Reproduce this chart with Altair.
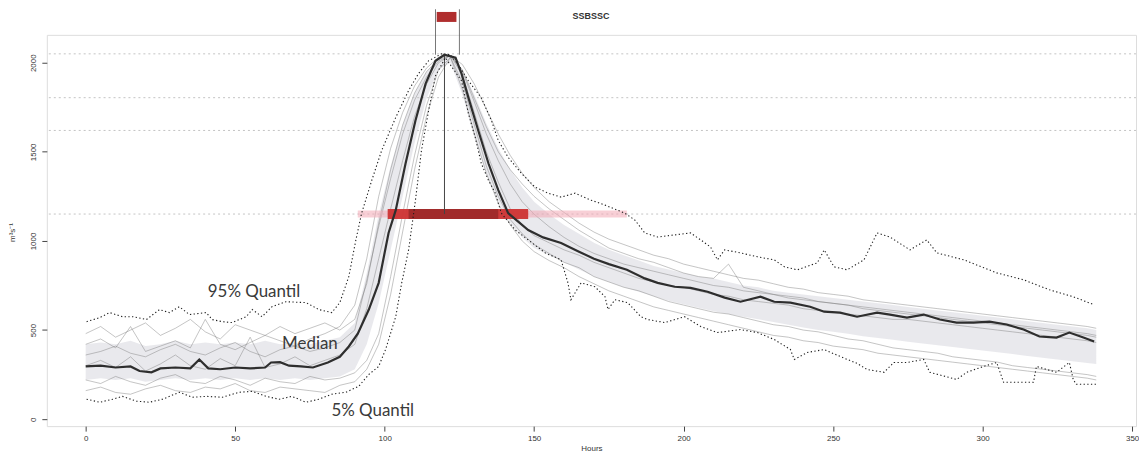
import altair as alt
import pandas as pd

# ---------------- data ----------------
MEMBER_HOURS = [0, 5, 10, 15, 20, 25, 30, 35, 40, 45, 50, 55, 60, 65, 70, 75, 80, 85, 90,
                94, 98, 102, 106, 110, 114, 118, 122, 126, 130, 134, 138, 142, 146,
                150, 155, 160, 165, 170, 175, 180, 185, 190, 195, 200, 205, 210, 215, 220,
                225, 230, 235, 240, 245, 250, 255, 260, 265, 270, 275, 280, 285, 290, 295,
                300, 305, 310, 315, 320, 325, 330, 335, 338]

MEMBER_A = [420, 450, 400, 520, 380, 410, 440, 400, 560, 420, 390, 430, 470, 440, 410, 450, 480, 520, 640,
            900, 1250, 1520, 1720, 1870, 1970, 2030, 2040, 1960, 1800, 1640, 1500, 1400, 1320,
            1250, 1180, 1120, 1060, 1010, 960, 930, 900, 880, 850, 820, 800, 790, 870, 740,
            720, 700, 690, 680, 660, 650, 640, 620, 610, 600, 590, 580, 570, 560, 550,
            540, 530, 520, 510, 500, 490, 480, 470, 460]
MEMBER_B = [220, 200, 240, 210, 190, 230, 250, 210, 200, 240, 220, 190, 230, 210, 200, 240, 220, 230, 260,
            330, 480, 800, 1150, 1480, 1760, 1960, 2030, 1890, 1650, 1420, 1250, 1120, 1040,
            980, 930, 880, 850, 800, 770, 740, 720, 690, 660, 640, 620, 600, 590, 570,
            550, 530, 520, 500, 490, 470, 450, 440, 420, 400, 390, 380, 370, 350, 340,
            330, 320, 300, 290, 280, 270, 260, 250, 240]
MEMBER_C = [300, 330, 290, 350, 270, 310, 360, 300, 280, 340, 300, 460, 290, 310, 350, 300, 330, 360, 420,
            620, 900, 1180, 1450, 1700, 1880, 2000, 2040, 1930, 1720, 1500, 1330, 1180, 1090,
            1030, 990, 950, 920, 880, 850, 820, 790, 770, 750, 740, 720, 700, 690, 670,
            660, 650, 640, 620, 610, 600, 590, 580, 570, 560, 560, 550, 540, 530, 520,
            510, 500, 490, 480, 470, 460, 450, 440, 430]
MEMBER_D = [480, 520, 460, 500, 540, 470, 510, 560, 490, 450, 530, 500, 470, 520, 480, 510, 540, 500, 560,
            760, 1100, 1400, 1650, 1830, 1950, 2020, 2040, 1990, 1880, 1740, 1600, 1480, 1380,
            1300, 1220, 1160, 1100, 1050, 1010, 980, 950, 920, 900, 870, 850, 830, 810, 790,
            780, 760, 740, 730, 710, 700, 690, 670, 660, 650, 640, 630, 620, 610, 600,
            590, 580, 570, 560, 550, 540, 530, 520, 510]
MEMBER_E = [160, 180, 150, 140, 170, 190, 160, 150, 180, 170, 200, 160, 150, 180, 170, 160, 150, 190, 210,
            280, 420, 700, 1050, 1400, 1700, 1920, 2030, 1850, 1600, 1380, 1210, 1090, 1000,
            940, 890, 850, 800, 760, 720, 690, 660, 630, 610, 590, 570, 550, 530, 510,
            490, 470, 460, 440, 430, 410, 400, 390, 370, 360, 350, 340, 330, 320, 310,
            300, 290, 280, 270, 260, 250, 240, 230, 220]
MEMBER_F = [360, 380, 410, 370, 350, 390, 420, 380, 360, 400, 430, 380, 350, 390, 410, 380, 400, 430, 500,
            780, 1080, 1350, 1600, 1790, 1920, 2010, 2040, 1950, 1780, 1600, 1450, 1320, 1220,
            1150, 1080, 1020, 970, 930, 900, 870, 850, 830, 810, 790, 770, 750, 740, 720,
            710, 700, 680, 670, 660, 650, 640, 630, 620, 610, 600, 590, 580, 570, 560,
            550, 540, 530, 520, 510, 500, 490, 480, 470]

# grey haze of the ensemble (dense part of the member cloud)
HAZE_LOW = [220, 230, 220, 230, 210, 220, 230, 220, 230, 220, 230, 220, 230, 220, 230, 220, 230, 240, 280,
            420, 650, 950, 1250, 1550, 1800, 1960, 2000, 1820, 1580, 1380, 1220, 1100, 1020,
            960, 920, 880, 840, 800, 770, 740, 715, 690, 665, 645, 625, 605, 590, 575,
            560, 545, 530, 515, 500, 490, 480, 465, 455, 445, 435, 425, 415, 405, 395,
            385, 375, 365, 355, 345, 335, 325, 315, 310]
HAZE_HIGH = [420, 430, 420, 440, 410, 420, 440, 420, 430, 420, 430, 420, 440, 420, 430, 420, 440, 460, 540,
             820, 1150, 1420, 1650, 1830, 1950, 2020, 2040, 1960, 1820, 1660, 1520, 1400, 1300,
             1220, 1150, 1090, 1040, 990, 950, 920, 890, 860, 840, 820, 800, 790, 770, 750,
             740, 720, 710, 700, 690, 680, 670, 660, 650, 640, 630, 620, 610, 600, 590,
             580, 570, 560, 550, 540, 530, 520, 510, 500]

MEDIAN_HOURS = [0, 5, 10, 15, 18, 22, 25, 30, 35, 38, 41, 45, 50, 55, 60, 62, 65, 68, 72, 76, 81, 85,
                88, 91, 94.7, 98, 101.3, 103.7, 107, 110.3, 113.7, 117, 120, 123.7, 125.7, 128, 131.3,
                134.7, 138, 141.3, 148, 153, 159, 165, 170, 175, 181, 187, 191.3, 197, 202.3, 208,
                213.7, 219, 225.7, 230.3, 235.7, 242.3, 247, 252.3, 258, 264.7, 269, 274.7, 280.3,
                285.7, 291.3, 297, 302.3, 308, 313.7, 319, 324.7, 329, 333.7, 337.3]
MEDIAN_VALUES = [296, 300, 290, 296, 270, 263, 285, 290, 285, 335, 285, 280, 290, 285, 290, 318, 320, 300,
                 296, 290, 318, 350, 408, 480, 615, 765, 1045, 1173, 1436, 1676, 1883, 2011, 2045, 2028,
                 1939, 1804, 1620, 1436, 1285, 1156, 1061, 1020, 989, 940, 900, 870, 838, 790, 765, 743,
                 737, 715, 682, 659, 687, 659, 654, 631, 603, 598, 575, 598, 587, 570, 587, 559, 542,
                 542, 547, 531, 503, 464, 458, 486, 458, 436]

Q95_HOURS = [0.3, 4.7, 8, 12.3, 15.7, 20.3, 24.7, 28, 31.3, 34.7, 40.3, 42.3, 45.7, 49, 53.7, 55.7,
             59, 62.3, 67, 73.7, 78, 82.3, 85, 88, 90.3, 92.3, 95.7, 99, 103.7, 108, 111.3, 114.7,
             119, 122, 125, 128, 132.3, 135.7, 138, 141.3, 145.7, 150.3, 154.7, 159, 163.7, 169,
             173.7, 180.3, 183.7, 187, 191.3, 197, 202.3, 205.7, 209, 211.3, 213.7, 219, 224.7,
             230.3, 233.7, 238, 244.7, 247, 250.3, 254.7, 260.3, 264.7, 269, 275.7, 281.3, 284.7,
             293.7, 304.7, 313.7, 322.3, 330.3, 337.3]
Q95_VALUES = [547, 570, 598, 575, 575, 559, 615, 598, 631, 587, 598, 559, 547, 542, 575, 615,
              575, 631, 659, 654, 615, 598, 654, 800, 1000, 1156, 1341, 1508, 1693, 1844, 1939, 2011,
              2050, 2045, 1980, 1899, 1804, 1676, 1564, 1469, 1380, 1302, 1268, 1246, 1268, 1229,
              1201, 1156, 1117, 1045, 1022, 1034, 1045, 1006, 966, 894, 950, 933, 911,
              894, 855, 838, 877, 950, 855, 838, 894, 1045, 1022, 950, 1006, 933,
              894, 821, 782, 726, 687, 642]

Q05_HOURS = [0.3, 4.7, 9, 12.3, 17, 21.3, 25.7, 31.3, 35.7, 40.3, 45.7, 51.3, 55.7, 60.3, 64.7, 69,
             73.7, 78, 82.3, 87, 91.3, 94.7, 98, 100.3, 103.7, 105.7, 108, 110.3, 112.3, 114.7, 117,
             120.3, 125.7, 128, 130.3, 132.3, 134.7, 137, 139, 143.7, 148, 153.7, 159, 161.3, 162.3,
             165.7, 170.3, 173.7, 174.7, 177, 181.3, 185.7, 188, 193.7, 200.3, 205.7, 211.3, 219,
             224.7, 230.3, 235.7, 237, 241.3, 247, 252.3, 258, 261.3, 267, 270.3, 274.7, 280.3,
             282.3, 291.3, 294.7, 300.3, 304.7, 307, 313.7, 317, 318, 324.7, 329, 330.3, 331.3, 338]
Q05_VALUES = [112, 95, 112, 128, 101, 95, 112, 151, 123, 128, 123, 151, 156, 128, 112, 128,
              95, 112, 140, 151, 184, 251, 296, 391, 575, 765, 950, 1229, 1508, 1732, 1927,
              2028, 1899, 1715, 1581, 1436, 1341, 1268, 1156, 1061, 1006, 933, 894, 765, 670,
              765, 743, 687, 615, 670, 654, 575, 559, 542, 575, 520, 486, 503,
              486, 447, 391, 335, 374, 391, 352, 313, 279, 263, 318, 318, 335,
              263, 223, 263, 296, 318, 207, 207, 207, 296, 263, 318, 223, 196, 196]

REFERENCE_LEVELS = [2050, 1804, 1620, 1151]

PEAK_HOUR = 120
PEAK_VALUE = 2045
BAR_LEVEL_LOW = 1123
BAR_LEVEL_HIGH = 1179
PINK_SPAN = [91, 181]
RED_SPAN = [101, 148]
DARK_SPAN = [108, 138]
WINDOW_HOURS = [117, 125]
WINDOW_TOP = 2300
MARKER_SPAN = [117.4, 124]
MARKER_LEVELS = [2229, 2285]

TITLE_TEXT = ["SSBSSC"]
TITLE_HOUR = [169]
TITLE_VALUE = [2262]

LABELS = ["95% Quantil", "Median", "5% Quantil"]
LABEL_HOURS = [56.3, 75, 96]
LABEL_VALUES = [715, 419, 45]

X_TICKS = [0, 50, 100, 150, 200, 250, 300, 350]
Y_TICKS = [0, 500, 1000, 1500, 2000]

# ---------------- tables ----------------
members = {"A": MEMBER_A, "B": MEMBER_B, "C": MEMBER_C, "D": MEMBER_D, "E": MEMBER_E, "F": MEMBER_F}
member_rows = []
for name, vals in members.items():
    for h, v in zip(MEMBER_HOURS, vals):
        member_rows.append({"h": h, "v": v, "member": name})
members_df = pd.DataFrame(member_rows)
haze_df = pd.DataFrame({"h": MEMBER_HOURS, "v": HAZE_LOW, "v2": HAZE_HIGH})
median_df = pd.DataFrame({"h": MEDIAN_HOURS, "v": MEDIAN_VALUES})
q95_df = pd.DataFrame({"h": Q95_HOURS, "v": Q95_VALUES})
q05_df = pd.DataFrame({"h": Q05_HOURS, "v": Q05_VALUES})
ref_df = pd.DataFrame({"v": REFERENCE_LEVELS})
labels_df = pd.DataFrame({"h": LABEL_HOURS, "v": LABEL_VALUES, "t": LABELS})
title_df = pd.DataFrame({"h": TITLE_HOUR, "v": TITLE_VALUE, "t": TITLE_TEXT})

xscale = alt.Scale(domain=[-13, 351.3], nice=False, zero=False)
yscale = alt.Scale(domain=[-39.1, 2156.4], nice=False, zero=False)

axis_common = dict(grid=False, domain=False, ticks=True, tickSize=5, tickColor="#444",
                   labelColor="#333", labelFont="Liberation Sans", labelFontSize=8,
                   titleFont="Liberation Sans", titleFontSize=8, titleColor="#333",
                   titleFontWeight="normal", format="d")

X = alt.X("h:Q", scale=xscale,
          axis=alt.Axis(values=X_TICKS, title="Hours", labelPadding=3, titlePadding=2, **axis_common))
Y = alt.Y("v:Q", scale=yscale,
          axis=alt.Axis(values=Y_TICKS, title="m³s⁻¹", labelAngle=270, labelAlign="center",
                        labelBaseline="bottom", labelPadding=4, titleAngle=270, titleX=-30,
                        titleY=198, **axis_common))

ref_lines = alt.Chart(ref_df).mark_rule(color="#b5b5b5", strokeWidth=0.8, strokeDash=[2, 3]).encode(y=Y)

haze_layer = alt.Chart(haze_df).mark_area(color="#9a9cac", opacity=0.22).encode(x=X, y=Y, y2="v2:Q")

members_layer = alt.Chart(members_df).mark_line(color="#7a7a7a", strokeWidth=0.8, opacity=0.55).encode(
    x=X, y=Y, detail="member:N")

def band(span, lo, hi, color, opacity):
    d = pd.DataFrame({"h": [span[0]], "h2": [span[1]], "v": [lo], "v2": [hi]})
    return alt.Chart(d).mark_rect(color=color, opacity=opacity).encode(
        x=X, x2="h2:Q", y=Y, y2="v2:Q")

pink = band(PINK_SPAN, BAR_LEVEL_LOW + 8, BAR_LEVEL_HIGH - 8, "#f2a7b4", 0.55)
red = band(RED_SPAN, BAR_LEVEL_LOW, BAR_LEVEL_HIGH, "#cc3333", 0.95)
dark = band(DARK_SPAN, BAR_LEVEL_LOW, BAR_LEVEL_HIGH, "#9e2a2a", 0.95)
marker = band(MARKER_SPAN, MARKER_LEVELS[0], MARKER_LEVELS[1], "#b02e2e", 1.0)

peak_df = pd.DataFrame({"h": [PEAK_HOUR], "v": [(BAR_LEVEL_LOW + BAR_LEVEL_HIGH) / 2], "v2": [PEAK_VALUE]})
peak_rule = alt.Chart(peak_df).mark_rule(color="#444", strokeWidth=1).encode(x=X, y=Y, y2="v2:Q")

window_df = pd.DataFrame({"h": WINDOW_HOURS, "v": [PEAK_VALUE, PEAK_VALUE], "v2": [WINDOW_TOP, WINDOW_TOP]})
window_rules = alt.Chart(window_df).mark_rule(color="#555", strokeWidth=0.8).encode(x=X, y=Y, y2="v2:Q")

q95_layer = alt.Chart(q95_df).mark_line(color="#1e1e1e", strokeWidth=1.1, strokeDash=[1.3, 2.4]).encode(x=X, y=Y)
q05_layer = alt.Chart(q05_df).mark_line(color="#1e1e1e", strokeWidth=1.1, strokeDash=[1.3, 2.4]).encode(x=X, y=Y)
median_layer = alt.Chart(median_df).mark_line(color="#2e2e2e", strokeWidth=2.2).encode(x=X, y=Y)

texts = alt.Chart(labels_df).mark_text(font="Lato", fontSize=17, color="#3a3a3a").encode(
    x=X, y=Y, text="t:N")

title_layer = alt.Chart(title_df).mark_text(font="Liberation Sans", fontSize=9, fontWeight="bold",
                                            color="#333").encode(x=X, y=Y, text="t:N")

chart = alt.layer(
    haze_layer, members_layer, ref_lines, pink, red, dark, peak_rule, window_rules, marker,
    q95_layer, q05_layer, median_layer, texts, title_layer
).properties(
    width=1094, height=393,
    padding={"left": 39, "top": 26, "right": 3, "bottom": 28},
    autosize=alt.AutoSizeParams(type="none"),
).configure_view(stroke="#555", strokeWidth=1).configure(background="white")

chart.save("out.html", embed_options={"renderer": "svg", "actions": False})
